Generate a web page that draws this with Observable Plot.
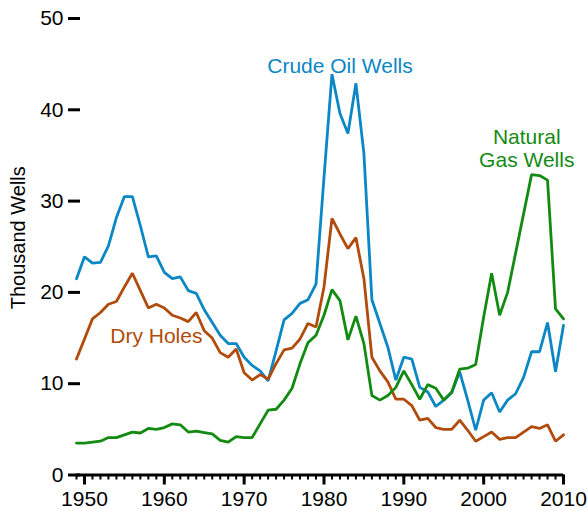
<!DOCTYPE html>
<html>
<head>
<meta charset="utf-8">
<script src="https://cdn.jsdelivr.net/npm/d3@7"></script>
<script src="https://cdn.jsdelivr.net/npm/@observablehq/plot@0.6"></script>
<style>
  html, body { margin: 0; padding: 0; background: white; }
</style>
</head>
<body>
<div id="chart"></div>
<script>
const years = d3.range(1949, 2011);

const crudeOil = [
  21.5, 23.9, 23.2, 23.3, 25.1, 28.2, 30.5, 30.5, 27.3, 23.9,
  24.0, 22.2, 21.5, 21.7, 20.2, 19.9, 18.1, 16.7, 15.3, 14.4,
  14.4, 12.9, 12.0, 11.4, 10.3, 13.6, 17.0, 17.7, 18.8, 19.2,
  20.9, 32.6, 43.9, 39.6, 37.4, 42.9, 35.2, 19.2, 16.6, 14.0,
  10.4, 12.9, 12.7, 9.6, 9.1, 7.5, 8.2, 9.0, 11.3, 8.2,
  4.9, 8.2, 9.0, 6.9, 8.2, 8.9, 10.7, 13.5, 13.5, 16.7,
  11.3, 16.4
];

const dryHoles = [
  12.7, 14.9, 17.1, 17.8, 18.7, 19.0, 20.6, 22.1, 20.2, 18.3,
  18.7, 18.3, 17.5, 17.2, 16.8, 17.8, 15.8, 15.0, 13.4, 12.9,
  13.8, 11.2, 10.4, 11.0, 10.5, 12.2, 13.7, 13.9, 14.9, 16.6,
  16.2, 20.6, 28.1, 26.4, 24.8, 26.0, 21.5, 12.9, 11.4, 10.2,
  8.3, 8.3, 7.6, 6.0, 6.2, 5.2, 5.0, 5.0, 6.0, 4.9,
  3.7, 4.2, 4.7, 3.9, 4.1, 4.1, 4.7, 5.3, 5.1, 5.5,
  3.7, 4.4
];

const naturalGas = [
  3.5, 3.5, 3.6, 3.7, 4.1, 4.1, 4.4, 4.7, 4.6, 5.1,
  5.0, 5.2, 5.6, 5.5, 4.7, 4.8, 4.65, 4.5, 3.8, 3.6,
  4.2, 4.1, 4.1, 5.6, 7.1, 7.2, 8.2, 9.5, 12.2, 14.5,
  15.3, 17.5, 20.3, 19.1, 14.8, 17.4, 14.4, 8.7, 8.2, 8.7,
  9.6, 11.4, 9.9, 8.3, 9.9, 9.5, 8.2, 9.1, 11.6, 11.7,
  12.1, 17.3, 22.1, 17.5, 20.0, 24.3, 28.6, 32.9, 32.8, 32.3,
  18.2, 17.1
];

const seriesNames = ["Crude Oil Wells", "Dry Holes", "Natural Gas Wells"];
const seriesColors = ["#0b87c5", "#b14b0b", "#138b13"];

const yTicks = [0, 10, 20, 30, 40, 50];
const xTicks = [1950, 1960, 1970, 1980, 1990, 2000, 2010];
const yLabel = "Thousand Wells";

const labelTexts = ["Crude Oil Wells", "Dry Holes", "Natural\nGas Wells"];
const labelYears = [1982.0, 1959.0, 2005.4];
const labelValues = [44.8, 15.3, 35.8];

const seriesValues = [crudeOil, dryHoles, naturalGas];
const data = seriesNames.flatMap((name, i) =>
  years.map((year, j) => ({ series: name, year, value: seriesValues[i][j] }))
);
const labels = labelTexts.map((text, i) => ({
  text, year: labelYears[i], value: labelValues[i], series: seriesNames[i]
}));

const chart = Plot.plot({
  width: 588,
  height: 511,
  marginLeft: 76,
  marginRight: 25,
  marginTop: 18,
  marginBottom: 36.5,
  style: {
    fontFamily: "'Liberation Sans', Arial, Helvetica, sans-serif",
    fontSize: "21px",
    color: "black",
    background: "white"
  },
  x: { domain: [1949, 2010] },
  y: { domain: [0, 50] },
  color: { domain: seriesNames, range: seriesColors },
  marks: [
    Plot.axisY({ ticks: yTicks, tickSize: 12, tickPadding: 5, dx: 4, strokeWidth: 3, label: null, fontSize: 21 }),
    Plot.ruleY([0], { strokeWidth: 3 }),
    Plot.axisX({ ticks: years, tickSize: 5, strokeWidth: 2, tickFormat: () => "", label: null }),
    Plot.axisX({ ticks: xTicks, tickSize: 10, tickPadding: 6, strokeWidth: 3, tickFormat: d => String(d), label: null, fontSize: 21 }),
    Plot.line(data, { x: "year", y: "value", z: "series", stroke: "series", strokeWidth: 2.8, strokeLinejoin: "miter" }),
    Plot.text(labels, { x: "year", y: "value", text: "text", fill: "series", fontSize: 21, lineHeight: 1.07 }),
    Plot.text([yLabel], { frameAnchor: "left", textAnchor: "middle", rotate: -90, dx: -58, dy: -9, fontSize: 20, fill: "black" })
  ]
});

document.getElementById("chart").appendChild(chart);
</script>
</body>
</html>
